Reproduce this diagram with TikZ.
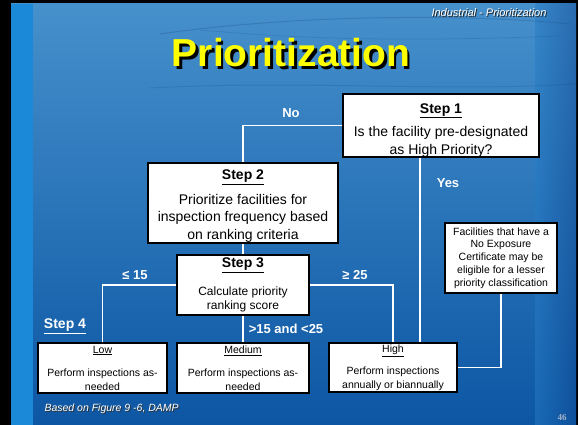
\documentclass[tikz,border=0pt]{standalone}
\usepackage{fontspec}
\setmainfont{Liberation Sans}
\newfontfamily\pagefont{Liberation Serif}
\usetikzlibrary{positioning}

\definecolor{seatop}{RGB}{70,144,204}
\definecolor{seamid}{RGB}{38,124,198}
\definecolor{seabot}{RGB}{12,86,164}
\definecolor{seastrip}{RGB}{28,136,216}
\definecolor{seaedge}{RGB}{16,74,146}
\definecolor{ripple}{RGB}{22,72,128}
\definecolor{titleyellow}{RGB}{255,255,0}
\definecolor{pagegray}{RGB}{165,180,200}

% text with a dark drop shadow behind it
\newcommand\castshadow[3]{\makebox[0pt][l]{\hspace{#1}\raisebox{-#1}{\textcolor{#2}{#3}}}#3}

\begin{document}
\begin{tikzpicture}[x=1pt,y=-1pt,
  box/.style={rectangle, draw, line width=1.6pt, fill=white, align=center, inner sep=0pt},
  stepbox/.style={box, font=\fontsize{14}{17.5}\selectfont},
  levelbox/.style={box, minimum height=50pt, font=\fontsize{10.5}{14}\selectfont},
  link/.style={draw=white, line width=1.6pt},
  answer/.style={text=white, font=\fontsize{13}{15}\selectfont\bfseries}
]
\useasboundingbox (0,0) rectangle (578,425);
% slide background
\fill[black] (0,0) rectangle (578,425);
\shade[top color=seatop, middle color=seamid, bottom color=seabot] (11,4) rectangle (576,425);
\fill[seastrip] (11,4) rectangle (33,425);
\shade[left color=seamid, right color=seaedge, opacity=0.5] (535,4) rectangle (576,425);
\draw[ripple, opacity=0.25, line width=1pt] (160,34) .. controls (300,14) and (470,14) .. (570,24);
\draw[ripple, opacity=0.2, line width=1pt] (150,88) .. controls (300,80) and (450,92) .. (575,84);
\draw[ripple, opacity=0.18, line width=0.8pt] (200,30) .. controls (330,42) and (450,40) .. (560,36);

% header texts
\node[text=white, anchor=base east, font=\fontsize{11}{13}\selectfont\itshape] (topic) at (550,17)
  {\castshadow{1pt}{black!85}{Industrial - Prioritization}};
\node[text=titleyellow, anchor=base, font=\fontsize{39}{40}\selectfont\bfseries] (title) at (291,67)
  {\castshadow{2.5pt}{black}{Prioritization}};

% boxes
\node[stepbox, minimum width=196pt, minimum height=63pt] (step1) at (441,125.5)
  {\rule{0pt}{19pt}\textbf{\underline{Step 1}}\\[6pt]Is the facility pre-designated\\as High Priority?};
\node[stepbox, minimum width=190pt, minimum height=80pt] (step2) at (243,203)
  {\rule{0pt}{16pt}\textbf{\underline{Step 2}}\\[7pt]Prioritize facilities for\\inspection frequency based\\on ranking criteria};
\node[box, minimum width=132pt, minimum height=60pt, font=\fontsize{12}{14}\selectfont] (step3) at (243,285)
  {{\fontsize{14}{16}\selectfont\bfseries\underline{Step 3}}\\[14pt]Calculate priority\\ranking score};
\node[levelbox, minimum width=129pt] (low) at (102.5,368)
  {\underline{Low}\\[9pt]Perform inspections as-\\needed};
\node[levelbox, minimum width=132pt] (medium) at (243,368)
  {\underline{Medium}\\[9pt]Perform inspections as-\\needed};
\node[levelbox, minimum width=128pt, minimum height=49pt] (high) at (393,367.5)
  {\underline{High}\\[8pt]Perform inspections\\annually or biannually};
\node[box, minimum width=112pt, minimum height=70pt, font=\fontsize{10.5}{12.8}\selectfont] (note) at (501,258)
  {Facilities that have a\\No Exposure\\Certificate may be\\eligible for a lesser\\priority classification};

% connectors
\draw[link] (step1.west) -| (step2.north);
\draw[link] ([xshift=-21pt]step1.south) -- ([xshift=-21pt]step1.south |- high.north);
\draw[link] (step2.south) -- (step3.north);
\draw[link] (step3.west) -| (low.north);
\draw[link] (step3.south) -- (medium.north);
\draw[link] (step3.east) -| (high.north);
\draw[link] (note.south) |- (high.east);

% labels
\node[answer] (no) at (291,113) {No};
\node[answer] (yes) at (448,183) {Yes};
\node[answer] (lowlbl) at (135,275) {≤ 15};
\node[answer] (highlbl) at (355,275) {≥ 25};
\node[answer] (midlbl) at (286,329) {>15 and <25};
\node[answer, font=\fontsize{14}{16}\selectfont\bfseries] (step4) at (65,326) {\underline{Step 4}};

% footer
\node[text=white, anchor=base west, font=\fontsize{10.5}{12}\selectfont\itshape] (source) at (41,411)
  {\castshadow{1pt}{black!80}{Based on Figure 9 -6, DAMP}};
\node[text=pagegray, font=\fontsize{9}{10}\pagefont\bfseries] (page) at (562,418) {46};
\end{tikzpicture}
\end{document}
